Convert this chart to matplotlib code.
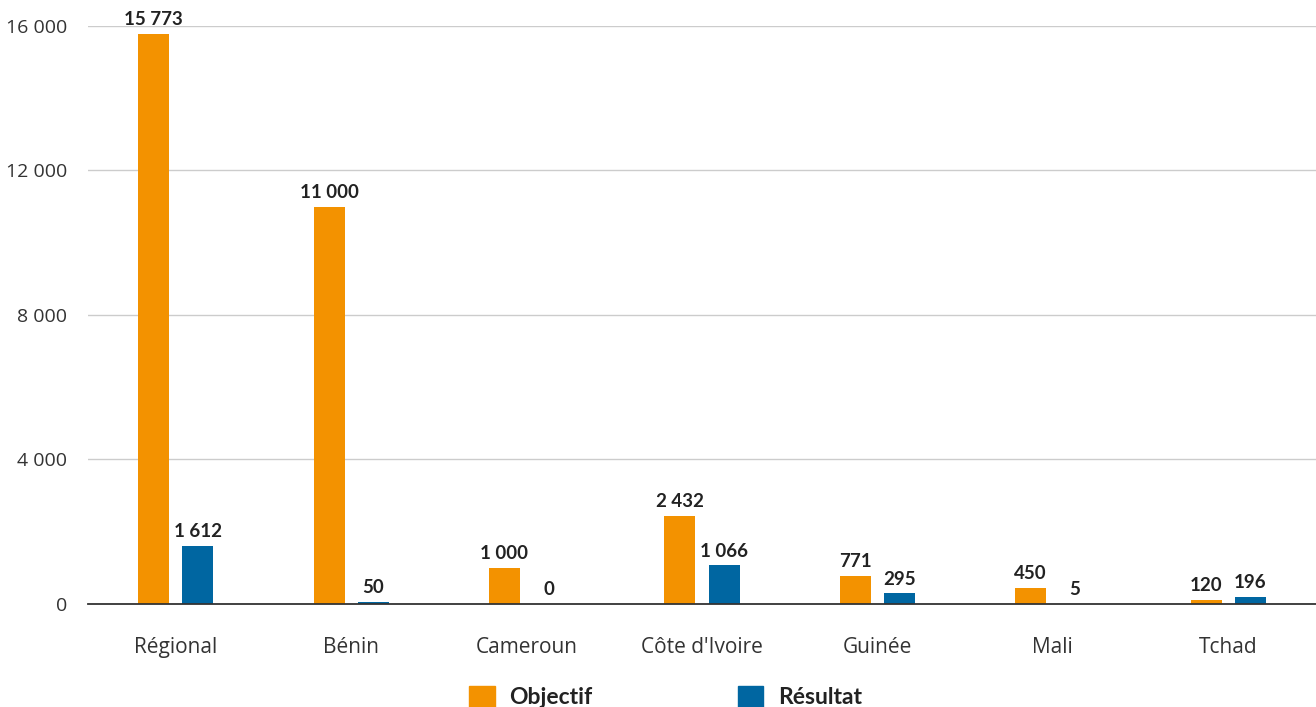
import matplotlib.pyplot as plt
import numpy as np
from matplotlib.patches import Patch

plt.rcParams['font.family'] = ['Lato', 'DejaVu Sans']

# donnees
pays = ['Régional', 'Bénin', 'Cameroun', "Côte d'Ivoire", 'Guinée', 'Mali', 'Tchad']
objectif = [15773, 11000, 1000, 2432, 771, 450, 120]
resultat = [1612, 50, 0, 1066, 295, 5, 196]
yticks = [0, 4000, 8000, 12000, 16000]

orange = '#F39200'
bleu = '#0066A1'


def fmt(v):
    return '{:,}'.format(v).replace(',', ' ')


fig = plt.figure(figsize=(13.16, 7.07), dpi=100)
ax = fig.add_axes([0.0669, 0.1457, 0.9331, 0.8176])

x = np.arange(len(pays))
w = 0.177
dx = 0.126

b1 = ax.bar(x - dx, objectif, w, color=orange, zorder=3)
b2 = ax.bar(x + dx, resultat, w, color=bleu, zorder=3)

for bars, vals in [(b1, objectif), (b2, resultat)]:
    for b, v in zip(bars, vals):
        ax.text(b.get_x() + b.get_width() / 2, v + 160, fmt(v),
                ha='center', va='bottom', fontsize=13.5, fontweight='bold',
                color='#222222', clip_on=False)

ax.set_xlim(-0.5, len(pays) - 0.5)
ax.set_ylim(0, 16000)
ax.set_yticks(yticks)
ax.set_yticklabels([fmt(t) for t in yticks], family=['Open Sans', 'DejaVu Sans'], fontsize=14)
ax.set_xticks(x)
ax.set_xticklabels(pays, family=['Open Sans', 'DejaVu Sans'], fontsize=15)
ax.tick_params(axis='both', length=0, colors='#333333')
ax.tick_params(axis='y', pad=15)
ax.tick_params(axis='x', pad=24)

ax.grid(axis='y', color='#cccccc', linewidth=1, zorder=0)
for s in ['top', 'right', 'left']:
    ax.spines[s].set_visible(False)
ax.spines['bottom'].set_color('#333333')
ax.spines['bottom'].set_linewidth(1.3)
ax.spines['bottom'].set_zorder(4)

handles = [Patch(color=orange, label='Objectif'), Patch(color=bleu, label='Résultat')]
leg = fig.legend(handles=handles, loc='center', bbox_to_anchor=(0.506, 0.014),
                 ncol=2, frameon=False, handlelength=1.1, handleheight=1.1,
                 columnspacing=6.35, handletextpad=0.65,
                 prop={'size': 16.5, 'weight': 'bold'})
for t in leg.get_texts():
    t.set_color('#222222')

fig.savefig('out.png', dpi=100)
